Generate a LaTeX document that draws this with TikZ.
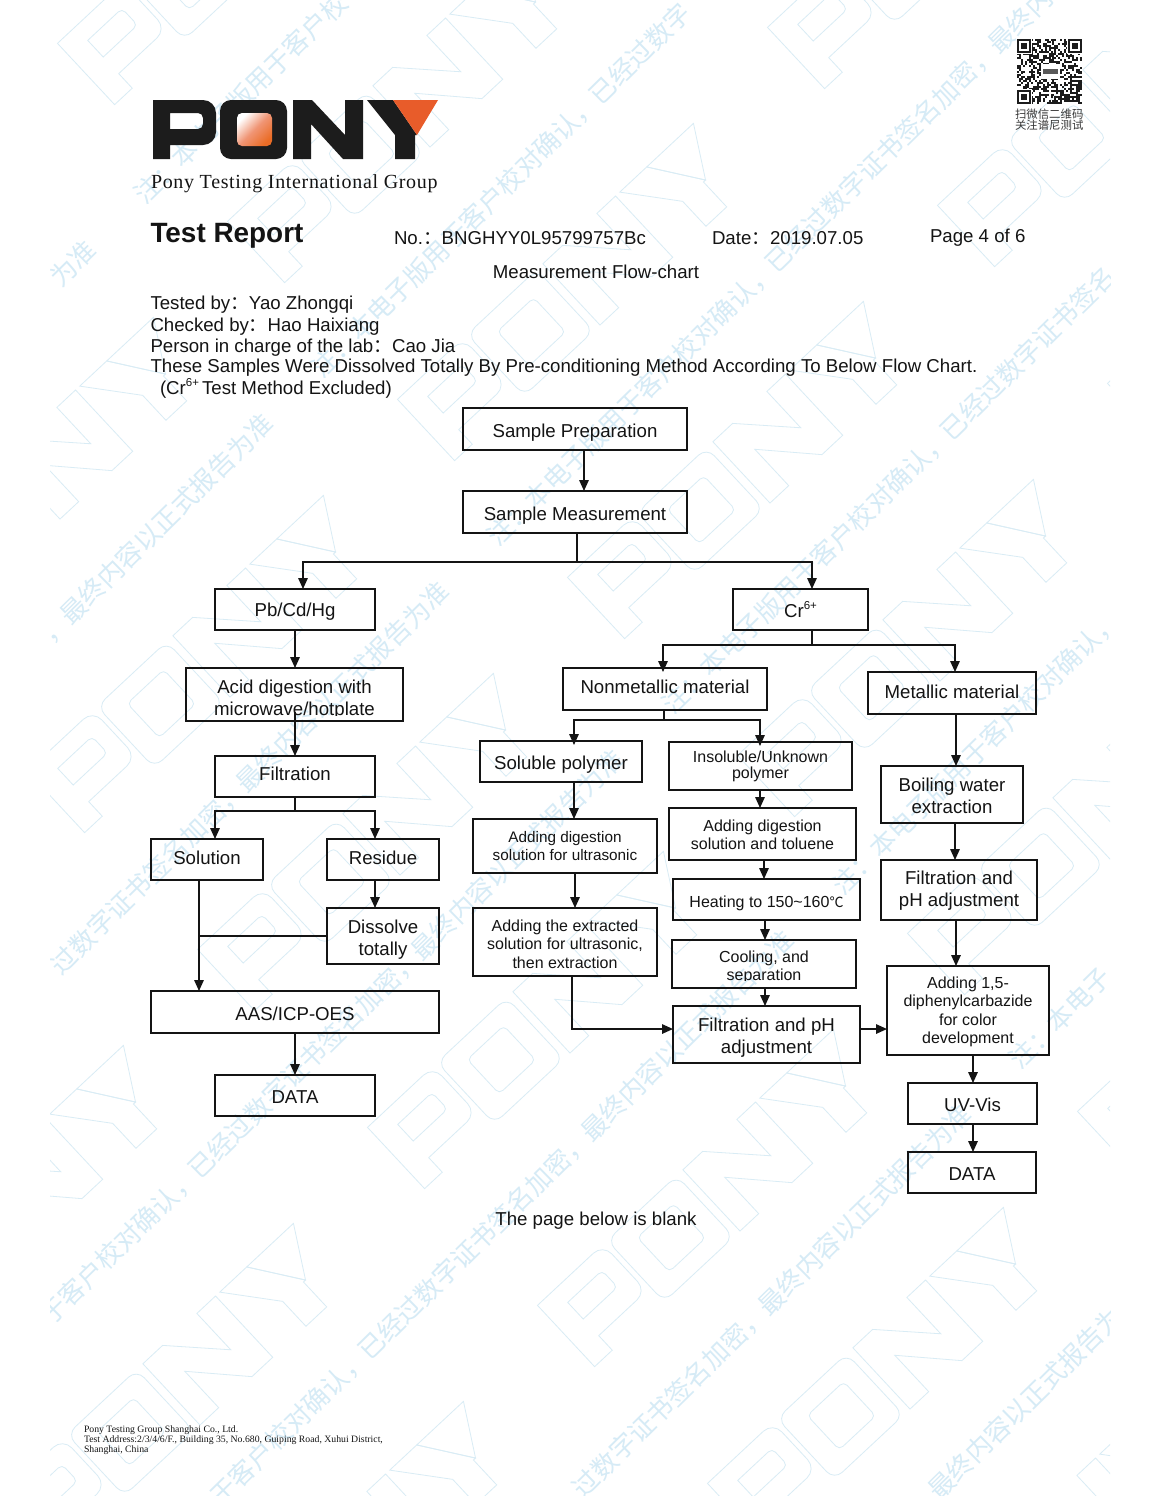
\documentclass[tikz,border=0pt]{standalone}
\usepackage{fontspec}
\usepackage{trimclip}
\setmainfont{Liberation Sans}
\newfontfamily\serifface{Liberation Serif}
\newfontfamily\cjk{Noto Sans CJK SC}
\usetikzlibrary{arrows.meta}
\definecolor{ink}{HTML}{141414}
\definecolor{wmtext}{HTML}{D6EBF6}
\definecolor{wmline}{HTML}{D9ECF5}
\definecolor{ponyorange}{HTML}{E85C2A}
\definecolor{ponydark}{HTML}{1C1C1C}
\newcommand{\fsz}[1]{\fontsize{#1}{#1}\selectfont}
\newcommand{\fc}{{\cjk ：}}
\newcommand{\supsix}{\raisebox{0.42em}{\fontsize{11.5}{12}\selectfont 6+}}
\newcommand{\bigtxt}{\fontsize{18.65}{22}\selectfont}
\newcommand{\smalltxt}{\fontsize{16}{18.5}\selectfont}
% logo letters in page coordinates
\newcommand{\logoP}{(153,100) [rounded corners=13pt] -- (216,100) -- (216,145) [sharp corners] -- (170,145) -- (170,159) -- (153,159) -- cycle (170,113) [rounded corners=5pt] -- (203,113) -- (203,129) [sharp corners] -- (170,129) -- cycle}
\newcommand{\logoO}{(220,100) [rounded corners=11pt] -- (287,100) -- (287,159) -- (220,159) -- cycle [sharp corners]}
\newcommand{\logoOin}{(237,113) [rounded corners=5pt] -- (272,113) -- (272,146) -- (237,146) -- cycle [sharp corners]}
\newcommand{\logoN}{(293,100) -- (312,100) -- (345,135) -- (345,100) -- (363,100) -- (363,159) -- (343,159) -- (311,124) -- (311,159) -- (293,159) -- cycle}
\newcommand{\logoY}{(367,100) -- (393,100) -- (417,135) -- (415,135) -- (415,159) -- (395,159) -- (395,135) -- cycle}
\newcommand{\logoT}{(393,100) -- (438,100) -- (417,135) -- cycle}
\tikzset{
  x=1pt,y=-1pt,
  box/.style={draw=ink,line width=1.5pt,inner sep=0pt,outer sep=0pt,align=center,text=ink},
  flow/.style={draw=ink,line width=1.5pt},
  arr/.style={flow,-{Triangle[width=9.5pt,length=11pt]}},
  plain/.style={inner sep=0pt,outer sep=0pt,text=ink,anchor=west},
  wmt/.style={inner sep=0pt,outer sep=0pt,anchor=west,rotate=44.5,text=wmtext,font=\fontsize{26}{27}\selectfont\cjk},
  wml/.style={draw=wmline,line width=0.8pt},
}
% \bx[text shift]{name}{x1}{y1}{x2}{y2}{font}{text}
\newcommand{\bx}[7][0]{\bxi{#1}{#2}{#3}{#4}{#5}{#6}{#7}}
\newcommand{\bxi}[8]{%
  \pgfmathsetmacro{\bxw}{#5-#3}\pgfmathsetmacro{\bxh}{#6-#4}%
  \pgfmathsetmacro{\bxx}{(#5+#3)/2}\pgfmathsetmacro{\bxy}{(#6+#4)/2}%
  \pgfmathsetmacro{\bxa}{18+#1}\pgfmathsetmacro{\bxb}{8-#1}%
  \node[box,minimum width=\bxw pt,minimum height=\bxh pt,font=#7] (#2) at (\bxx,\bxy) {\rule{0pt}{\bxa pt}#8\rule[-\bxb pt]{0pt}{\bxb pt}};}
% vertical arrow between two boxes at abscissa x
\newcommand{\va}[3]{\draw[arr] (#1.south -| #2,0) -- (#3.north -| #2,0);}
% watermark segment: {name}{x of reference glyph}{y of it}{index of first glyph from it}{text}
\newcommand{\wm}[5]{\node[wmt] (#1) at ({#2+(#4-0.5)*18.55},{#3-(#4-0.5)*18.22}) {#5};}
\newcommand{\ponymark}[2]{%
  \begin{scope}[shift={(#1,#2)},rotate=43,scale=1.42,shift={(-295,-130)}]
    \draw[wml] \logoP; \draw[wml] \logoO; \draw[wml] \logoOin; \draw[wml] \logoN; \draw[wml] \logoY; \draw[wml] \logoT;
  \end{scope}}
\begin{document}
\begin{tikzpicture}
\useasboundingbox (0,0) rectangle (1159,1500);
\fill[white] (0,0) rectangle (1159,1500);
% watermark
\begin{scope}
  \clip (50,0) rectangle (1110,1495);
  \foreach \a in {-3,...,8}{\foreach \b in {-3,...,3}{
    \pgfmathsetmacro{\cxx}{574+\a*170-\b*370}
    \pgfmathsetmacro{\cyy}{293+\a*178+\b*372}
    \pgfmathparse{(\cxx>-150)&&(\cxx<1310)&&(\cyy>-150)&&(\cyy<1650)?1:0}
    \ifnum\pgfmathresult=1 \ponymark{\cxx}{\cyy}\fi
  }}
  \wm{waa}{185}{153}{-6.54}{为准}
  \wm{wab}{185}{153}{-2}{注：本电子版用于客户校}
  \wm{wba}{362}{327}{-16.54}{，最终内容以正式报告为准}
  \wm{wbb}{362}{327}{-2}{注：本电子版用于客户校对确认，已经过数字}
  \wm{wca}{538}{495}{-25.54}{过数字证书签名加密，最终内容以正式报告为准}
  \wm{wcb}{538}{495}{-2}{注：本电子版用于客户校对确认，已经过数字证书签名加密，最终内}
  \wm{wda}{713}{663}{-35.54}{于客户校对确认，已经过数字证书签名加密，最终内容以正式报告为准}
  \wm{wdb}{713}{663}{-2}{注：本电子版用于客户校对确认，已经过数字证书签名}
  \wm{wea}{883}{844}{-35.54}{于客户校对确认，已经过数字证书签名加密，最终内容以正式报告为准}
  \wm{web}{883}{844}{-2}{注：本电子版用于客户校对确认，}
  \wm{wfa}{1060}{1018}{-25.54}{过数字证书签名加密，最终内容以正式报告为准}
  \wm{wfb}{1060}{1018}{-2}{注：本电子}
  \wm{wga}{1230}{1202}{-15.54}{最终内容以正式报告为}
\end{scope}
% logo
\fill[ponydark,even odd rule] \logoP;
\fill[ponydark] \logoO;
\shade[bottom color=ponyorange!90!yellow,top color=white,shading angle=45,middle color=ponyorange!65!white] \logoOin;
\fill[ponydark] \logoN;
\fill[ponydark] \logoY;
\fill[ponyorange] \logoT;
\node[plain] (tag) at (151,184) {\serifface\addfontfeature{LetterSpace=3.3}\fsz{20}Pony Testing International Group};
% QR code
\pgfmathsetseed{2019}
\foreach \i in {0,...,32}{\foreach \j in {0,...,32}{
  \pgfmathparse{rnd<0.52?1:0}
  \ifnum\pgfmathresult=1 \fill[ponydark] ({1017+\i*1.97},{39+\j*1.97}) rectangle +(2,2);\fi
}}
\foreach \qx/\qy in {1017/39,1068/39,1017/90}{
  \fill[white] (\qx-1,\qy-1) rectangle +(16,16);
  \fill[ponydark] (\qx,\qy) rectangle +(14,14);
  \fill[white] (\qx+2,\qy+2) rectangle +(10,10);
  \fill[ponydark] (\qx+4,\qy+4) rectangle +(6,6);
}
\fill[white] (1041,64) rectangle (1060,79);
\fill[gray!70!black] (1043,69) rectangle (1058,74);
\node[plain,font=\fsz{11.4}\cjk,text=ink!85] (qra) at (1015,114) {扫微信二维码};
\node[plain,font=\fsz{11.4}\cjk,text=ink!85] (qrb) at (1015,125) {关注谱尼测试};
% header
\node[plain,font=\fsz{27.9}\bfseries] (title) at (150.5,236) {Test Report};
\node[plain,font=\fsz{18.65}] (no) at (394,238) {No.\fc BNGHYY0L95799757Bc};
\node[plain,font=\fsz{18.65}] (date) at (712,238) {Date\fc 2019.07.05};
\node[plain,font=\fsz{18.65}] (page) at (930,238) {Page 4 of 6};
\node[plain,font=\fsz{18.65},anchor=center] (mfc) at (596,272) {Measurement Flow-chart};
\node[plain,font=\fsz{18.65}] (l1) at (150.5,305) {Tested by\fc Yao Zhongqi};
\node[plain,font=\fsz{18.65}] (l2) at (150.5,327) {Checked by\fc Hao Haixiang};
\node[plain,font=\fsz{18.65}] (l3) at (150.5,347.5) {Person in charge of the lab\fc Cao Jia};
\node[plain,font=\fsz{18.65}] (l4) at (150.5,368) {These Samples Were Dissolved Totally By Pre-conditioning Method According To Below Flow Chart.};
\node[plain,font=\fsz{18.65}] (l5) at (160,388) {(Cr\supsix\,Test Method Excluded)};
% boxes
\bx[3]{prep}{463}{408}{687}{450}{\bigtxt}{Sample Preparation}
\bx[3]{meas}{463}{491}{687}{533}{\bigtxt}{Sample Measurement}
\bx[1.5]{pb}{215}{589}{375}{630}{\bigtxt}{Pb/Cd/Hg}
\bx[2.5]{cr}{733}{589}{868}{630}{\bigtxt}{Cr\supsix}
\bx[4.5]{acid}{186}{668}{403}{721}{\bigtxt}{Acid digestion with\\\clipbox{0 3.9pt 0 0}{microwave/hotplate}}
\bx[-1.4]{filt}{215}{756}{375}{797}{\bigtxt}{Filtration}
\bx[-0.5]{sol}{151}{839}{263}{880}{\bigtxt}{Solution}
\bx[-0.5]{res}{327}{839}{439}{880}{\bigtxt}{Residue}
\bx[3]{dis}{327}{908}{439}{964}{\bigtxt}{Dissolve\\totally}
\bx[3]{aas}{151}{991}{439}{1033}{\bigtxt}{AAS/ICP-OES}
\bx[2.5]{dataa}{215}{1075}{375}{1116}{\bigtxt}{DATA}
\bx[-1]{non}{563}{668}{767}{710}{\bigtxt}{Nonmetallic material}
\bx[0]{metal}{868}{672}{1036}{714}{\bigtxt}{Metallic material}
\bx[2.5]{solp}{480}{741}{642}{782}{\bigtxt}{Soluble polymer}
\bx[-1]{insp}{669}{742}{852}{790}{\fontsize{16}{16}\selectfont}{Insoluble/Unknown\\polymer}
\bx[0.5]{addl}{473}{819}{657}{873}{\fontsize{15.3}{18.5}\selectfont}{Adding digestion\\solution for ultrasonic}
\bx[1.25]{addr}{669}{808}{856}{860}{\smalltxt}{Adding digestion\\solution and toluene}
\bx[2.5]{heat}{673}{879}{860}{920}{\smalltxt}{Heating to 150\textasciitilde160{\cjk\fontsize{14}{14}\selectfont ℃}}
\bx[2.25]{cool}{672}{940}{856}{988}{\smalltxt}{Cooling, and\\\clipbox{0 3.4pt 0 0}{separation}}
\bx[2.5]{fph}{673}{1006}{860}{1063}{\bigtxt}{Filtration and pH\\adjustment}
\bx[2.5]{ext}{473}{908}{657}{976}{\smalltxt}{Adding the extracted\\solution for ultrasonic,\\then extraction}
\bx[2.5]{boil}{881}{766}{1023}{823}{\bigtxt}{Boiling water\\extraction}
\bx[0]{frt}{881}{860}{1037}{920}{\bigtxt}{Filtration and\\pH adjustment}
\bx[0.25]{dpc}{887}{966}{1049}{1055}{\smalltxt}{Adding 1,5-\\diphenylcarbazide\\for color\\development}
\bx[3]{uv}{908}{1083}{1037}{1124}{\bigtxt}{UV-Vis}
\bx[3.2]{datab}{908}{1152}{1036}{1193}{\bigtxt}{DATA}
% connectors: left and top
\va{prep}{584}{meas}
\coordinate (jm) at (577,562);
\draw[flow] (meas.south -| jm) -- (jm);
\draw[arr] (jm) -| (pb.north -| 303,0);
\draw[arr] (jm) -| (cr.north -| 812,0);
\va{pb}{295}{acid}
\draw[arr] ([yshift=9pt]acid.south -| 295,0) -- (filt.north -| 295,0);
\coordinate (jf) at (295,811);
\draw[flow] (filt.south -| jf) -- (jf);
\draw[arr] (jf) -| (sol.north -| 215,0);
\draw[arr] (jf) -| (res.north -| 375,0);
\va{res}{375}{dis}
\va{sol}{199}{aas}
\draw[flow] (dis.west) -- (dis.west -| 199,0);
\va{aas}{295}{dataa}
% connectors: chromium branch
\coordinate (jc) at (812,645);
\draw[flow] (cr.south -| jc) -- (jc);
\draw[arr,shorten >=-4pt] (jc) -| (non.north -| 663,0);
\draw[arr] (jc) -| (metal.north -| 955,0);
\coordinate (jn) at (664,720);
\draw[flow] (non.south -| jn) -- (jn);
\draw[arr,shorten >=-4pt] (jn) -| (solp.north -| 574,0);
\draw[arr,shorten >=-4pt] (jn) -| (insp.north -| 760,0);
\va{solp}{574}{addl}
\va{addl}{575}{ext}
\va{insp}{760}{addr}
\va{addr}{764}{heat}
\va{heat}{765}{cool}
\va{cool}{765}{fph}
\draw[arr] (ext.south -| 572,0) |- (fph.west |- 0,1029);
\draw[arr] (fph.east |- 0,1029) -- (dpc.west |- 0,1029);
\va{metal}{956}{boil}
\va{boil}{955}{frt}
\va{frt}{956}{dpc}
\va{dpc}{973}{uv}
\va{uv}{973}{datab}
% foot
\node[plain,font=\fsz{18.65},anchor=center] (blank) at (596,1221) {The page below is blank};
\node[plain,font=\serifface\fontsize{9.75}{8.6}\selectfont,align=left,anchor=north west] (foot) at (84,1426) {Pony Testing Group Shanghai Co., Ltd.\\Test Address:2/3/4/6/F., Building 35, No.680, Guiping Road, Xuhui District,\\Shanghai, China};
\end{tikzpicture}
\end{document}
